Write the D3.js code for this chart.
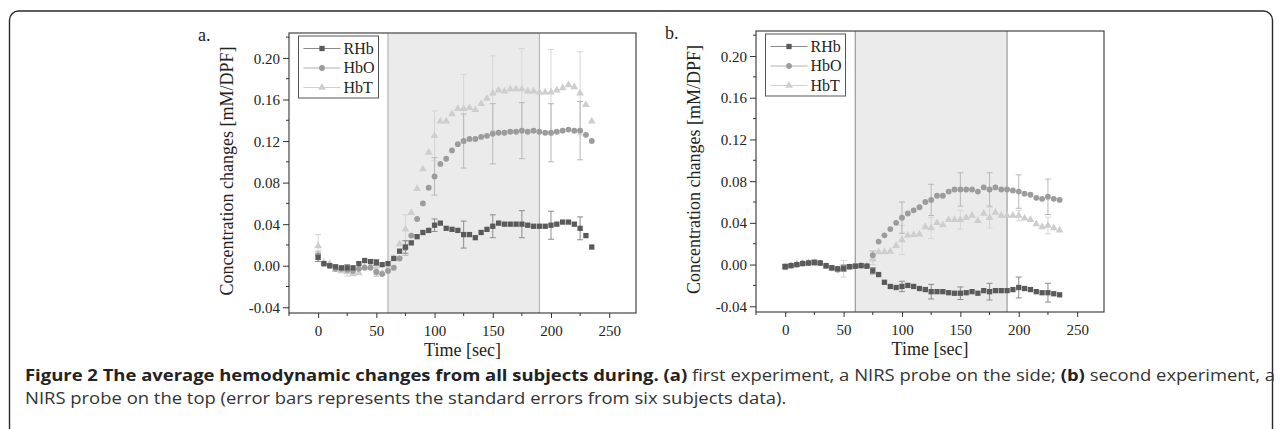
<!DOCTYPE html>
<html>
<head>
<meta charset="utf-8">
<script src="https://cdn.jsdelivr.net/npm/d3@7"></script>
<style>
  body { margin: 0; background: #fff; }
  svg { display: block; }
</style>
</head>
<body>
<div id="chart"></div>
<script>
var svgWidth = 1281;
var svgHeight = 429;

// time points (sec)
var time = [0, 5, 10, 15, 20, 25, 30, 35, 40, 45, 50, 55, 60, 65, 70, 75, 80, 85, 90, 95,
  100, 105, 110, 115, 120, 125, 130, 135, 140, 145, 150, 155, 160, 165, 170, 175, 180, 185,
  190, 195, 200, 205, 210, 215, 220, 225, 230, 235];
var errTime = [0, 25, 50, 75, 100, 125, 150, 175, 200, 225];
var seriesNames = ["RHb", "HbO", "HbT"];
var xTicks = [0, 50, 100, 150, 200, 250];
var yTicks = [-0.04, 0, 0.04, 0.08, 0.12, 0.16, 0.20];
var taskWindow = [60, 190];

// panel a
var aRHb = [0.008, 0.002, 0.000, -0.001, -0.002, -0.002, -0.002, 0.002, 0.005, 0.004, 0.003, 0.001,
  0.002, 0.007, 0.014, 0.018, 0.022, 0.028, 0.032, 0.034, 0.039, 0.041, 0.036, 0.035, 0.034, 0.030,
  0.030, 0.027, 0.032, 0.035, 0.038, 0.041, 0.040, 0.040, 0.040, 0.040, 0.039, 0.038, 0.038, 0.038,
  0.039, 0.040, 0.042, 0.042, 0.040, 0.036, 0.029, 0.018];
var aHbO = [0.010, 0.002, 0.000, -0.003, -0.003, -0.004, -0.005, -0.003, -0.002, -0.002, -0.006, -0.008,
  -0.005, -0.002, 0.007, 0.017, 0.029, 0.045, 0.060, 0.075, 0.086, 0.098, 0.103, 0.111, 0.117, 0.120,
  0.122, 0.122, 0.124, 0.125, 0.127, 0.128, 0.128, 0.129, 0.129, 0.130, 0.129, 0.130, 0.129, 0.128,
  0.128, 0.129, 0.130, 0.131, 0.130, 0.130, 0.126, 0.120];
var aHbT = [0.019, 0.003, 0.002, -0.004, -0.005, -0.006, -0.008, -0.007, -0.001, -0.001, -0.004, -0.007,
  -0.003, 0.007, 0.021, 0.035, 0.051, 0.074, 0.093, 0.109, 0.125, 0.139, 0.139, 0.146, 0.151, 0.151,
  0.152, 0.150, 0.156, 0.161, 0.166, 0.169, 0.168, 0.170, 0.170, 0.170, 0.168, 0.168, 0.167, 0.167,
  0.167, 0.169, 0.171, 0.174, 0.172, 0.166, 0.155, 0.139];
var aErrRHb = [0.004, 0.003, 0.003, 0.006, 0.006, 0.013, 0.011, 0.013, 0.0135, 0.011];
var aErrHbO = [0.004, 0.003, 0.004, 0.007, 0.018, 0.026, 0.029, 0.027, 0.028, 0.028];
var aErrHbT = [0.011, 0.004, 0.004, 0.014, 0.024, 0.033, 0.036, 0.039, 0.041, 0.040];

// panel b
var bRHb = [-0.002, -0.001, 0.000, 0.001, 0.0015, 0.002, 0.0015, -0.001, -0.003, -0.004, -0.0035, -0.002,
  -0.0015, -0.001, -0.0015, -0.006, -0.0096, -0.017, -0.021, -0.022, -0.021, -0.020, -0.021, -0.023,
  -0.024, -0.026, -0.026, -0.026, -0.027, -0.0275, -0.0275, -0.027, -0.026, -0.0275, -0.025, -0.026,
  -0.025, -0.025, -0.025, -0.024, -0.022, -0.023, -0.024, -0.026, -0.027, -0.027, -0.028, -0.029];
var bHbO = [-0.002, -0.001, 0.000, 0.001, 0.0015, 0.002, 0.0015, -0.0015, -0.0035, -0.005, -0.0035, -0.002,
  -0.0015, -0.001, -0.0015, 0.009, 0.022, 0.028, 0.034, 0.040, 0.045, 0.049, 0.052, 0.055, 0.060, 0.062,
  0.066, 0.066, 0.070, 0.072, 0.072, 0.072, 0.072, 0.070, 0.074, 0.072, 0.074, 0.072, 0.072, 0.071,
  0.070, 0.068, 0.067, 0.064, 0.063, 0.065, 0.063, 0.062];
var bHbT = [-0.002, -0.001, 0.000, 0.001, 0.002, 0.002, 0.001, -0.002, -0.004, -0.005, -0.004, -0.003,
  -0.002, -0.001, -0.001, 0.005, 0.012, 0.012, 0.0125, 0.018, 0.0235, 0.028, 0.0285, 0.029, 0.036, 0.035,
  0.040, 0.038, 0.043, 0.043, 0.043, 0.045, 0.047, 0.042, 0.049, 0.045, 0.050, 0.047, 0.047, 0.047,
  0.047, 0.0445, 0.043, 0.039, 0.036, 0.0375, 0.035, 0.033];
var bErrRHb = [0.002, 0.002, 0.003, 0.003, 0.005, 0.007, 0.006, 0.008, 0.010, 0.009];
var bErrHbO = [0.002, 0.002, 0.003, 0.004, 0.015, 0.015, 0.016, 0.016, 0.016, 0.017];
var bErrHbT = [0.003, 0.003, 0.008, 0.005, 0.014, 0.010, 0.009, 0.010, 0.005, 0.008];

var styles = {
  RHb: { fill: "#5a5a5a", err: "#8c8c8c", line: "#8a8a8a", shape: d3.symbolSquare, size: 28 },
  HbO: { fill: "#9c9c9c", err: "#b8b8b8", line: "#b0b0b0", shape: d3.symbolCircle, size: 27 },
  HbT: { fill: "#cecece", err: "#d6d6d6", line: "#d0d0d0", shape: d3.symbolTriangle, size: 26 }
};

var panels = [
  { label: "a.", left: 289, top: 33, right: 636, bottom: 313, winColor: "#aaa",
    values: { RHb: aRHb, HbO: aHbO, HbT: aHbT },
    errors: { RHb: aErrRHb, HbO: aErrHbO, HbT: aErrHbT } },
  { label: "b.", left: 756, top: 31, right: 1104, bottom: 312, winColor: "#888",
    values: { RHb: bRHb, HbO: bHbO, HbT: bHbT },
    errors: { RHb: bErrRHb, HbO: bErrHbO, HbT: bErrHbT } }
];

var svg = d3.select("#chart")
  .append("svg")
  .attr("width", svgWidth)
  .attr("height", svgHeight);

// outer frame
svg.append("rect")
  .attr("x", 9.5).attr("y", 11)
  .attr("width", 1263).attr("height", 440)
  .attr("rx", 9).attr("ry", 9)
  .attr("fill", "none")
  .attr("stroke", "#2a2a2a")
  .attr("stroke-width", 1.4);

var serif = "'Liberation Serif', 'Times New Roman', serif";

panels.forEach(function(p) {
  var x = d3.scaleLinear().domain([-25, 273]).range([p.left, p.right]);
  var y = d3.scaleLinear().domain([-0.0455, 0.224]).range([p.bottom, p.top]);
  var g = svg.append("g");

  // stimulation window
  g.append("rect")
    .attr("x", x(taskWindow[0])).attr("y", p.top)
    .attr("width", x(taskWindow[1]) - x(taskWindow[0]))
    .attr("height", p.bottom - p.top)
    .attr("fill", "#ebebeb");
  taskWindow.forEach(function(t) {
    g.append("line")
      .attr("x1", x(t)).attr("x2", x(t))
      .attr("y1", p.top).attr("y2", p.bottom)
      .attr("stroke", p.winColor).attr("stroke-width", 1);
  });

  // error bars
  ["HbT", "HbO", "RHb"].forEach(function(name) {
    var vals = p.values[name];
    var errs = p.errors[name];
    var st = styles[name];
    errTime.forEach(function(t, i) {
      var v = vals[time.indexOf(t)];
      var cx = x(t);
      var y1 = y(v + errs[i]), y2 = y(v - errs[i]);
      g.append("line").attr("x1", cx).attr("x2", cx).attr("y1", y1).attr("y2", y2)
        .attr("stroke", st.err).attr("stroke-width", 1);
      [y1, y2].forEach(function(yy) {
        g.append("line").attr("x1", cx - 3).attr("x2", cx + 3).attr("y1", yy).attr("y2", yy)
          .attr("stroke", st.err).attr("stroke-width", 1);
      });
    });
  });

  // markers
  ["HbT", "HbO", "RHb"].forEach(function(name) {
    var st = styles[name];
    g.selectAll(".m" + name)
      .data(p.values[name])
      .enter()
      .append("path")
      .attr("d", d3.symbol().type(st.shape).size(st.size))
      .attr("transform", function(d, i) { return "translate(" + x(time[i]) + "," + y(d) + ")"; })
      .attr("fill", st.fill);
  });

  // frame
  g.append("rect")
    .attr("x", p.left).attr("y", p.top)
    .attr("width", p.right - p.left).attr("height", p.bottom - p.top)
    .attr("fill", "none").attr("stroke", "#333").attr("stroke-width", 1.1);

  // axes
  var leftAxis = d3.axisLeft(y).tickValues(yTicks).tickSize(6).tickPadding(3)
    .tickFormat(function(d) { return d.toFixed(2); });
  var bottomAxis = d3.axisBottom(x).tickValues(xTicks).tickSize(5).tickPadding(7);
  var yAx = g.append("g").attr("transform", "translate(" + p.left + ",0)").call(leftAxis);
  var xAx = g.append("g").attr("transform", "translate(0," + p.bottom + ")").call(bottomAxis);
  [yAx, xAx].forEach(function(ax) {
    ax.select(".domain").remove();
    ax.selectAll("line").attr("stroke", "#333");
    ax.selectAll("text").attr("font-family", serif).attr("font-size", 15).attr("fill", "#222");
  });
  yAx.selectAll("text").attr("dy", "0.34em");

  // minor ticks
  var yMinor = yTicks.slice(0, -1).map(function(d) { return d + 0.02; });
  yMinor.push(0.22);
  g.selectAll(".ym").data(yMinor).enter().append("line")
    .attr("x1", p.left - 3).attr("x2", p.left)
    .attr("y1", function(d) { return y(d); }).attr("y2", function(d) { return y(d); })
    .attr("stroke", "#333");
  var xMinor = [-25, 25, 75, 125, 175, 225];
  g.selectAll(".xm").data(xMinor).enter().append("line")
    .attr("x1", function(d) { return x(d); }).attr("x2", function(d) { return x(d); })
    .attr("y1", p.bottom).attr("y2", p.bottom + 3)
    .attr("stroke", "#333");

  // axis titles
  g.append("text")
    .attr("transform", "translate(" + (p.left - 56) + "," + ((p.top + p.bottom) / 2 - 2) + ") rotate(-90)")
    .attr("text-anchor", "middle")
    .attr("font-family", serif).attr("font-size", 18).attr("fill", "#222")
    .text("Concentration changes [mM/DPF]");
  g.append("text")
    .attr("x", (p.left + p.right) / 2).attr("y", p.bottom + 43)
    .attr("text-anchor", "middle")
    .attr("font-family", serif).attr("font-size", 18).attr("fill", "#222")
    .text("Time [sec]");
  g.append("text")
    .attr("x", p.left - 91).attr("y", p.top + 8)
    .attr("font-family", serif).attr("font-size", 18).attr("fill", "#222")
    .text(p.label);

  // legend
  var lg = g.append("g").attr("transform", "translate(" + (p.left + 9.5) + "," + (p.top + 3) + ")");
  lg.append("rect").attr("width", 80).attr("height", 62)
    .attr("fill", "#fff").attr("stroke", "#555").attr("stroke-width", 1);
  seriesNames.forEach(function(name, i) {
    var st = styles[name];
    var ly = 12.5 + i * 19.5;
    lg.append("line").attr("x1", 5).attr("x2", 42).attr("y1", ly).attr("y2", ly)
      .attr("stroke", st.line).attr("stroke-width", 1);
    lg.append("path")
      .attr("d", d3.symbol().type(st.shape).size(st.size))
      .attr("transform", "translate(23.5," + ly + ")")
      .attr("fill", st.fill);
    lg.append("text").attr("x", 45).attr("y", ly + 5)
      .attr("font-family", serif).attr("font-size", 16).attr("fill", "#222")
      .text(name);
  });
});

// caption
var sans = "'Open Sans', 'Noto Sans', sans-serif";
var cap1 = svg.append("text").attr("x", 25).attr("y", 381)
  .attr("font-family", sans).attr("font-size", 16).attr("fill", "#333");
cap1.append("tspan").attr("font-weight", "bold").attr("fill", "#222")
  .text("Figure 2 The average hemodynamic changes from all subjects during. (a)");
cap1.append("tspan").text(" first experiment, a NIRS probe on the side; ");
cap1.append("tspan").attr("font-weight", "bold").attr("fill", "#222").text("(b)");
cap1.append("tspan").text(" second experiment, a");

var cap2 = svg.append("text").attr("x", 25).attr("y", 404)
  .attr("font-family", sans).attr("font-size", 16).attr("fill", "#333")
  .text("NIRS probe on the top (error bars represents the standard errors from six subjects data).");

var n1 = cap1.node().getComputedTextLength();
var n2 = cap2.node().getComputedTextLength();
var k = 1250 / n1;
cap1.attr("textLength", n1 * k).attr("lengthAdjust", "spacingAndGlyphs");
cap2.attr("textLength", n2 * k).attr("lengthAdjust", "spacingAndGlyphs");
</script>
</body>
</html>
